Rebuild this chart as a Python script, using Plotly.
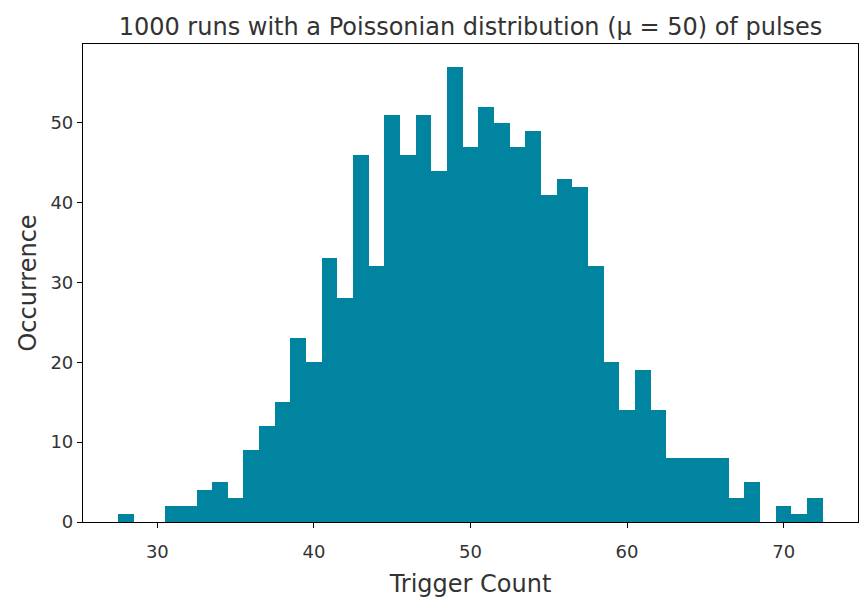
import plotly.graph_objects as go

# trigger counts (bin centres) and how often each occurred in 1000 runs
trigger_count = list(range(28, 73))
occurrence = [1, 0, 0, 2, 2, 4, 5, 3, 9, 12,
              15, 23, 20, 33, 28, 46, 32, 51, 46, 51,
              44, 57, 47, 52, 50, 47, 49, 41, 43, 42,
              32, 20, 14, 19, 14, 8, 8, 8, 8, 3,
              5, 0, 2, 1, 3]

x_ticks = [30, 40, 50, 60, 70]
y_ticks = [0, 10, 20, 30, 40, 50]

font = "'DejaVu Sans', sans-serif"
ink = "#333333"

fig = go.Figure(go.Bar(x=trigger_count, y=occurrence, width=1,
                       marker=dict(color="#00849f", line=dict(width=0))))

# page body adds an 8px offset, so margins are shifted accordingly
fig.update_layout(
    width=867, height=605,
    margin=dict(l=75, r=17, t=36, b=91, autoexpand=False),
    plot_bgcolor="white", paper_bgcolor="white",
    bargap=0, showlegend=False,
    font=dict(family=font, color=ink),
    title=dict(text="1000 runs with a Poissonian distribution (μ = 50) of pulses",
               x=0.5, xref="paper", xanchor="center",
               y=1 - 19 / 605, yref="container", yanchor="middle",
               font=dict(size=24, color=ink)),
)
fig.update_xaxes(range=[25.25, 74.75], tickvals=x_ticks, showgrid=False, zeroline=False,
                 automargin=False,
                 showline=True, linecolor="black", linewidth=1.2, mirror=True,
                 ticks="outside", ticklen=5, tickcolor="black", ticklabelstandoff=8,
                 tickfont=dict(size=18, color=ink),
                 title=dict(text="Trigger Count", font=dict(size=24, color=ink), standoff=14))
fig.update_yaxes(range=[0, 59.85], tickvals=y_ticks, showgrid=False, zeroline=False,
                 automargin=False,
                 showline=True, linecolor="black", linewidth=1.2, mirror=True,
                 ticks="outside", ticklen=5, tickcolor="black",
                 tickfont=dict(size=18, color=ink),
                 title=dict(text="Occurrence", font=dict(size=24, color=ink), standoff=6))

fig.write_html("out.html")
